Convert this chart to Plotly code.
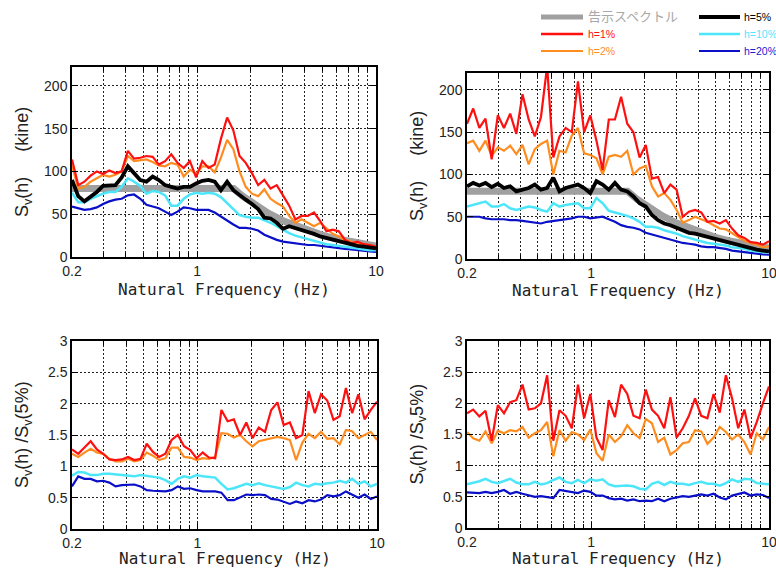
import plotly.graph_objects as go

W, H = 776, 572

# ---------------- data ----------------
FREQ = [0.2, 0.2167, 0.2347, 0.2541, 0.2753, 0.2982, 0.3229, 0.3498, 0.3789, 0.4104,
        0.4445, 0.4814, 0.5214, 0.5648, 0.6117, 0.6626, 0.7176, 0.7773, 0.8419, 0.9119,
        0.9876, 1.0697, 1.1586, 1.2549, 1.3592, 1.4722, 1.5946, 1.7271, 1.8707, 2.0262,
        2.1946, 2.3770, 2.5746, 2.7886, 3.0204, 3.2714, 3.5434, 3.8379, 4.1569, 4.5024,
        4.8766, 5.2820, 5.7210, 6.1966, 6.7116, 7.2695, 7.8737, 8.5282, 9.2370, 10.0]

KOKUJI_F = [0.2, 1.6, 1.8, 2.0, 2.5, 3.0, 4.0, 5.0, 6.0, 8.0, 10.0]
KOKUJI_V = [80, 80, 71.1, 64, 51.2, 42.7, 32, 25.6, 21.3, 16, 12.8]

# top-left: Sv (kine)
TL_H1 = [114, 84, 88, 95, 100, 97, 101, 98, 100, 124, 115, 116, 118, 117, 108, 112, 120, 110, 104, 112,
         93, 112, 104, 108, 138, 163, 148, 118, 110, 98, 84, 90, 80, 84, 72, 60, 44, 48, 48, 52,
         42, 30, 32, 30, 20, 16, 18, 15, 14, 12]
TL_H2 = [107, 80, 82, 88, 92, 96, 94, 96, 100, 118, 112, 113, 114, 111, 107, 106, 110, 108, 94, 102,
         97, 106, 106, 99, 116, 137, 126, 100, 82, 74, 71, 79, 68, 63, 59, 48, 40, 44, 40, 36,
         40, 33, 27, 24, 20, 18, 16, 15, 14, 12]
TL_H5 = [90, 71, 65, 70, 76, 83, 84, 84, 93, 106, 98, 90, 88, 94, 90, 84, 82, 80, 82, 82,
         86, 89, 90, 88, 78, 88, 78, 72, 67, 62, 56, 46, 45, 40, 33, 36, 34, 32, 29, 27,
         24, 22, 20, 18, 16, 14, 13, 12, 11, 10]
TL_H10 = [75, 64, 64, 68, 71, 74, 76, 76, 82, 92, 88, 83, 74, 77, 76, 72, 60, 60, 68, 73,
          75, 74, 75, 74, 70, 63, 56, 49, 47, 46, 46, 43, 40, 36, 32, 28, 25, 23, 21, 19,
          17, 15, 14, 13, 12, 11, 10, 9, 8, 8]
TL_H20 = [59, 57, 55, 56, 58, 62, 65, 67, 68, 72, 73, 68, 61, 59, 57, 53, 49, 53, 58, 57,
          55, 55, 55, 52, 47, 42, 38, 34, 34, 33, 31, 26, 23, 20, 18, 17, 16, 15, 14, 14,
          13, 12, 11, 10, 9.5, 9, 8, 7, 6.5, 6]

# top-right: Sv (kine)
TR_H1 = [160, 178, 155, 166, 118, 170, 155, 172, 148, 195, 165, 145, 168, 228, 120, 145, 155, 150, 210, 150,
         170, 140, 105, 165, 165, 192, 160, 150, 120, 135, 95, 97, 78, 88, 82, 50, 56, 58, 55, 44,
         45, 42, 46, 36, 28, 25, 20, 19, 17, 21]
TR_H2 = [137, 140, 128, 140, 122, 132, 128, 134, 124, 135, 112, 130, 136, 140, 100, 128, 126, 146, 155, 125,
         123, 119, 100, 121, 123, 121, 128, 100, 107, 110, 86, 74, 78, 70, 58, 43, 46, 50, 47, 44,
         40, 36, 35, 30, 26, 22, 19, 17, 14, 15]
TR_H5 = [86, 90, 87, 90, 85, 89, 84, 86, 80, 82, 84, 88, 82, 84, 96, 80, 84, 86, 88, 84,
         78, 92, 88, 82, 90, 82, 80, 74, 66, 62, 52, 46, 42, 40, 37, 34, 31, 30, 28, 26,
         25, 23, 21, 19, 17, 15, 13, 11, 10, 9]
TR_H10 = [62, 64, 66, 68, 62, 62, 65, 60, 58, 60, 62, 61, 58, 56, 66, 62, 64, 65, 66, 60,
          60, 72, 66, 57, 55, 53, 51, 48, 44, 38, 38, 37, 34, 32, 30, 27, 25, 23, 21, 19,
          18, 17, 16, 14, 13, 12, 10, 9, 8, 8]
TR_H20 = [50, 50, 50, 48, 47, 47, 47, 46, 46, 45, 44, 43, 42, 44, 45, 46, 47, 48, 50, 50,
          48, 49, 50, 47, 44, 40, 38, 37, 35, 31, 29, 27, 25, 23, 21, 19, 18, 17, 15, 14,
          14, 13, 12, 10, 9, 8, 7, 6, 5.5, 5]

# bottom-left: Sv(h)/Sv(5%)
BL_H1 = [1.27, 1.20, 1.30, 1.40, 1.27, 1.20, 1.11, 1.10, 1.11, 1.15, 1.10, 1.12, 1.36, 1.23, 1.15, 1.20, 1.42, 1.50, 1.32, 1.26,
         1.13, 1.22, 1.14, 1.13, 1.90, 1.72, 1.75, 1.50, 1.70, 1.45, 1.62, 1.55, 1.90, 2.02, 1.66, 1.70, 1.45, 1.50, 2.20, 1.85,
         2.15, 2.05, 1.74, 1.80, 2.25, 1.85, 2.15, 1.75, 1.90, 2.03]
BL_H2 = [1.20, 1.15, 1.22, 1.28, 1.22, 1.20, 1.12, 1.08, 1.08, 1.12, 1.08, 1.10, 1.22, 1.17, 1.10, 1.13, 1.30, 1.30, 1.15, 1.14,
         1.10, 1.13, 1.12, 1.15, 1.53, 1.52, 1.46, 1.50, 1.40, 1.32, 1.40, 1.42, 1.45, 1.47, 1.45, 1.42, 1.10, 1.38, 1.52, 1.45,
         1.55, 1.44, 1.45, 1.35, 1.58, 1.56, 1.45, 1.50, 1.55, 1.42]
BL_H10 = [0.85, 0.91, 0.90, 0.86, 0.86, 0.88, 0.88, 0.87, 0.86, 0.85, 0.84, 0.86, 0.85, 0.84, 0.82, 0.78, 0.72, 0.80, 0.84, 0.82,
          0.86, 0.84, 0.83, 0.82, 0.72, 0.63, 0.65, 0.68, 0.72, 0.70, 0.73, 0.70, 0.68, 0.66, 0.64, 0.67, 0.74, 0.70, 0.68, 0.72,
          0.71, 0.73, 0.74, 0.77, 0.74, 0.80, 0.72, 0.76, 0.68, 0.72]
BL_H20 = [0.68, 0.84, 0.80, 0.80, 0.76, 0.77, 0.74, 0.68, 0.70, 0.70, 0.71, 0.68, 0.62, 0.61, 0.60, 0.60, 0.62, 0.68, 0.64, 0.65,
          0.62, 0.60, 0.60, 0.60, 0.58, 0.46, 0.46, 0.50, 0.55, 0.54, 0.55, 0.54, 0.48, 0.47, 0.44, 0.40, 0.44, 0.41, 0.46, 0.44,
          0.47, 0.54, 0.52, 0.54, 0.60, 0.55, 0.50, 0.55, 0.48, 0.52]

# bottom-right: Sv(h)/Sv(5%)
BR_H1 = [1.84, 1.90, 1.79, 1.88, 1.40, 1.97, 1.84, 2.02, 2.05, 2.30, 1.90, 1.92, 2.00, 2.45, 1.40, 1.89, 1.80, 1.60, 2.30, 1.76,
         2.15, 1.45, 1.25, 2.05, 1.78, 2.30, 2.15, 1.80, 1.76, 2.22, 1.90, 1.80, 1.60, 2.10, 1.45, 1.60, 1.80, 2.08, 1.80, 1.76,
         2.15, 1.85, 2.45, 2.08, 1.60, 1.90, 1.44, 1.70, 2.00, 2.27]
BR_H2 = [1.54, 1.44, 1.40, 1.55, 1.36, 1.56, 1.52, 1.57, 1.55, 1.62, 1.45, 1.52, 1.57, 1.70, 1.15, 1.57, 1.40, 1.54, 1.50, 1.41,
         1.58, 1.20, 1.08, 1.50, 1.38, 1.47, 1.65, 1.52, 1.44, 1.75, 1.68, 1.38, 1.45, 1.18, 1.25, 1.36, 1.38, 1.57, 1.55, 1.35,
         1.45, 1.62, 1.54, 1.42, 1.50, 1.38, 1.18, 1.52, 1.42, 1.62]
BR_H10 = [0.70, 0.72, 0.75, 0.79, 0.74, 0.72, 0.76, 0.79, 0.73, 0.70, 0.70, 0.74, 0.70, 0.72, 0.77, 0.81, 0.74, 0.72, 0.77, 0.72,
          0.78, 0.76, 0.78, 0.70, 0.67, 0.68, 0.68, 0.67, 0.63, 0.62, 0.71, 0.74, 0.69, 0.74, 0.71, 0.71, 0.69, 0.72, 0.74, 0.71,
          0.71, 0.68, 0.72, 0.78, 0.74, 0.79, 0.78, 0.72, 0.71, 0.70]
BR_H20 = [0.57, 0.56, 0.56, 0.58, 0.56, 0.58, 0.61, 0.55, 0.58, 0.55, 0.53, 0.50, 0.51, 0.50, 0.48, 0.61, 0.59, 0.58, 0.56, 0.60,
          0.58, 0.52, 0.52, 0.48, 0.46, 0.47, 0.44, 0.46, 0.43, 0.44, 0.43, 0.47, 0.43, 0.47, 0.49, 0.51, 0.50, 0.52, 0.54, 0.52,
          0.55, 0.49, 0.46, 0.52, 0.55, 0.57, 0.52, 0.54, 0.53, 0.48]

X_TICKVALS = [0.2, 1, 10]
X_TICKTEXT = ["0.2", "1", "10"]
X_MINOR = [0.3, 0.4, 0.5, 0.6, 0.7, 0.8, 0.9, 2, 3, 4, 5, 6, 7, 8, 9]

LEGEND_LABELS = ["告示スペクトル", "h=5%", "h=1%", "h=10%", "h=2%", "h=20%"]
X_TITLE = "Natural Frequency (Hz)"

# ---------------- style ----------------
C_GRAY = "#a0a0a0"
C_RED = "#ff1010"
C_ORANGE = "#ff8c1e"
C_BLACK = "#000000"
C_CYAN = "#4ce6fa"
C_BLUE = "#0a10c8"

STYLE = {
    "kokuji": dict(color=C_GRAY, width=7),
    "h1": dict(color=C_RED, width=2.2),
    "h2": dict(color=C_ORANGE, width=2.2),
    "h5": dict(color=C_BLACK, width=3.8),
    "h10": dict(color=C_CYAN, width=2.5),
    "h20": dict(color=C_BLUE, width=2.2),
}

TICK_FONT = dict(family="Liberation Sans, Arial, sans-serif", size=14, color="#222222")
TITLE_FONT = dict(family="DejaVu Sans Mono, monospace", size=16, color="#222222")
YTITLE_FONT = dict(family="Liberation Sans, Arial, sans-serif", size=18, color="#222222")


def px_x(p):
    return p / W


def px_y(p):
    return 1 - p / H


fig = go.Figure()

panels = [
    ("x", "y", dict(h20=TL_H20, h10=TL_H10, h2=TL_H2, h1=TL_H1, h5=TL_H5), True),
    ("x2", "y2", dict(h20=TR_H20, h10=TR_H10, h2=TR_H2, h1=TR_H1, h5=TR_H5), True),
    ("x3", "y3", dict(h20=BL_H20, h10=BL_H10, h2=BL_H2, h1=BL_H1), False),
    ("x4", "y4", dict(h20=BR_H20, h10=BR_H10, h2=BR_H2, h1=BR_H1), False),
]

for xa, ya, series, top in panels:
    if top:
        fig.add_trace(go.Scatter(x=KOKUJI_F, y=KOKUJI_V, mode="lines", line=STYLE["kokuji"],
                                 xaxis=xa, yaxis=ya, showlegend=False, hoverinfo="skip"))
    for key in ["h20", "h10", "h2", "h1", "h5"]:
        if key in series:
            fig.add_trace(go.Scatter(x=FREQ, y=series[key], mode="lines", line=STYLE[key],
                                     xaxis=xa, yaxis=ya, showlegend=False))

# frame pixel boxes: (left, right, top, bottom)
boxes = {
    "1": (72, 376, 67, 257),
    "2": (467, 769, 73, 259),
    "3": (72, 377, 341, 529),
    "4": (467, 769, 341, 528),
}
yranges = {"1": [0, 222], "2": [0, 220], "3": [0, 3], "4": [0, 3]}
ydticks = {"1": 50, "2": 50, "3": 0.5, "4": 0.5}
xtitle_y = {"1": 289, "2": 290, "3": 558, "4": 558}
ytitle_x = {"1": 23, "2": 418, "3": 23, "4": 418}
ytitles = {
    "1": "S<sub>v</sub>(h)" + "\u00a0" * 5 + "(kine)",
    "2": "S<sub>v</sub>(h)" + "\u00a0" * 5 + "(kine)",
    "3": "S<sub>v</sub>(h)\u00a0/S<sub>v</sub>(5%)",
    "4": "S<sub>v</sub>(h)\u00a0/S<sub>v</sub>5%)",
}

grid_common = dict(gridcolor="#222222", gridwidth=0.8, griddash="2px,2px")

layout = {}
annotations = []
for k, (l, r, t, b) in boxes.items():
    xname = "xaxis" if k == "1" else "xaxis" + k
    yname = "yaxis" if k == "1" else "yaxis" + k
    anchor_y = "y" if k == "1" else "y" + k
    anchor_x = "x" if k == "1" else "x" + k
    layout[xname] = dict(
        type="log", range=[-0.69897, 1.0], domain=[px_x(l), px_x(r)], anchor=anchor_y,
        automargin=False, ticklabeloverflow="allow",
        tickmode="array", tickvals=X_TICKVALS, ticktext=X_TICKTEXT,
        ticks="inside", ticklen=6, tickcolor="#000", mirror="ticks",
        showline=True, linecolor="#000", linewidth=1.5,
        showgrid=True, **grid_common,
        minor=dict(tickvals=X_MINOR, ticks="inside", ticklen=4, tickcolor="#000",
                   showgrid=True, **grid_common),
        tickfont=TICK_FONT, zeroline=False,
    )
    layout[yname] = dict(
        range=yranges[k], domain=[px_y(b), px_y(t)], anchor=anchor_x,
        automargin=False, ticklabeloverflow="allow",
        dtick=ydticks[k], tick0=0,
        ticks="inside", ticklen=6, tickcolor="#000", mirror="ticks",
        showline=True, linecolor="#000", linewidth=1.5,
        showgrid=True, **grid_common,
        tickfont=TICK_FONT, zeroline=False,
    )
    annotations.append(dict(text=X_TITLE, xref="paper", yref="paper",
                            x=px_x((l + r) / 2), y=px_y(xtitle_y[k]),
                            xanchor="center", yanchor="middle", showarrow=False,
                            font=TITLE_FONT))
    annotations.append(dict(text=ytitles[k], xref="paper", yref="paper",
                            x=px_x(ytitle_x[k]), y=px_y((t + b) / 2), textangle=-90,
                            xanchor="center", yanchor="middle", showarrow=False,
                            font=YTITLE_FONT))

# manual legend (two columns, three rows)
leg_rows = [17, 34, 51]
leg_cols = [(541, 583, 586), (699, 740, 742)]
leg_items = [
    (0, 0, "kokuji", LEGEND_LABELS[0], "#a8a8a8", 5),
    (1, 0, "h5", LEGEND_LABELS[1], "#000000", 4),
    (0, 1, "h1", LEGEND_LABELS[2], C_RED, 2.5),
    (1, 1, "h10", LEGEND_LABELS[3], "#55e4ff", 2.5),
    (0, 2, "h2", LEGEND_LABELS[4], C_ORANGE, 2),
    (1, 2, "h20", LEGEND_LABELS[5], "#2020d0", 2),
]
shapes = []
for col, row, key, label, tcolor, lw in leg_items:
    x0, x1, xt = leg_cols[col]
    yy = leg_rows[row]
    shapes.append(dict(type="line", xref="paper", yref="paper",
                       x0=px_x(x0), x1=px_x(x1), y0=px_y(yy), y1=px_y(yy),
                       line=dict(color=STYLE[key]["color"], width=lw)))
    fsize = 13 if key == "kokuji" else 10.5
    annotations.append(dict(text=label, xref="paper", yref="paper", x=px_x(xt), y=px_y(yy),
                            xanchor="left", yanchor="middle", showarrow=False,
                            font=dict(family="Liberation Sans, Noto Sans CJK JP, sans-serif",
                                      size=fsize, color=tcolor)))

fig.update_layout(
    width=W, height=H,
    margin=dict(l=0, r=0, t=0, b=0, autoexpand=False),
    paper_bgcolor="white", plot_bgcolor="white",
    showlegend=False,
    annotations=annotations, shapes=shapes,
    **layout,
)

fig.write_html("out.html")
